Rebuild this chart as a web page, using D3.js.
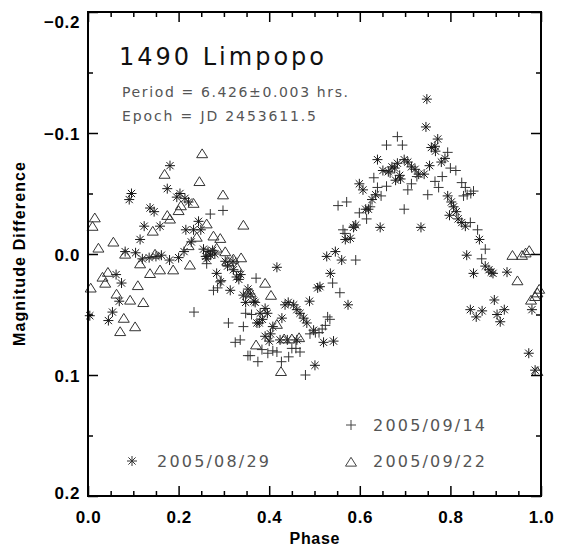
<!DOCTYPE html>
<html>
<head>
<meta charset="utf-8">
<script src="https://cdn.jsdelivr.net/npm/d3@7"></script>
<style>
  body { margin: 0; background: #fff; }
  text { font-family: "Liberation Sans", Arial, Helvetica, sans-serif; }
  .ann { font-family: "DejaVu Sans", "Liberation Sans", sans-serif; }
</style>
</head>
<body>
<script>
var fullWidth = 562
var fullHeight = 546
var margin = { top: 12, right: 21, bottom: 50, left: 88 }

// tick values
var xMajor = [0, 0.2, 0.4, 0.6, 0.8, 1.0]
var yMajor = [-0.2, -0.1, 0.0, 0.1, 0.2]

// 2005/08/29 (asterisks) [phase, mag]
var aug29 = [
  [0.004,0.051],[0.045,0.055],[0.054,0.048],[0.062,0.017],[0.069,0.039],[0.074,0.024],[0.082,-0.002],
  [0.091,-0.045],[0.096,-0.050],[0.105,-0.001],[0.115,-0.012],[0.124,-0.023],[0.137,-0.038],[0.146,-0.035],
  [0.159,-0.023],[0.175,-0.054],[0.181,-0.073],[0.196,-0.047],[0.203,-0.050],[0.214,-0.046],[0.222,-0.043],
  [0.216,-0.020],[0.228,-0.010],[0.233,-0.020],[0.244,-0.027],[0.249,-0.020],
  [0.120,0.004],[0.135,0.003],[0.150,0.002],[0.162,0.001],[0.180,0.005],[0.200,0.003],[0.212,-0.002],
  [0.255,-0.004],[0.260,0.002],[0.265,-0.002],[0.270,0.001],[0.275,-0.003],[0.280,0.000],[0.262,0.004],
  [0.284,0.016],[0.292,0.023],[0.303,0.006],[0.308,0.010],[0.314,0.030],[0.321,0.013],[0.328,0.019],
  [0.333,0.021],[0.343,0.034],[0.348,0.040],[0.358,0.033],[0.366,0.039],[0.373,0.057],[0.378,0.057],
  [0.380,0.049],[0.391,0.045],[0.396,0.049],[0.408,0.060],[0.417,0.011],[0.428,0.053],[0.435,0.042],
  [0.442,0.040],[0.454,0.042],[0.461,0.046],[0.468,0.049],[0.476,0.053],[0.483,0.057],[0.489,0.039],
  [0.498,0.063],[0.507,0.028],[0.512,0.027],[0.391,0.068],[0.400,0.072],[0.424,0.071],[0.440,0.071],
  [0.461,0.071],[0.501,0.092],[0.520,0.073],[0.542,0.072],[0.527,0.002],[0.535,0.016],[0.546,-0.002],
  [0.560,0.005],[0.568,-0.012],[0.574,0.042],[0.579,-0.013],[0.586,-0.022],[0.591,-0.024],
  [0.320,0.006],[0.337,0.017],[0.353,0.029],[0.369,0.040],[0.385,0.054],[0.403,0.066],
  [0.599,-0.058],[0.607,-0.053],[0.613,-0.037],[0.619,-0.037],[0.627,-0.045],[0.635,-0.049],[0.639,-0.078],
  [0.645,-0.022],[0.651,-0.069],[0.663,-0.068],[0.671,-0.072],[0.677,-0.071],[0.679,-0.061],[0.683,-0.075],
  [0.688,-0.065],[0.690,-0.062],[0.698,-0.078],[0.706,-0.076],[0.714,-0.072],[0.722,-0.070],[0.730,-0.066],
  [0.735,-0.022],[0.742,-0.066],[0.746,-0.105],[0.748,-0.128],[0.754,-0.073],[0.758,-0.088],[0.766,-0.089],
  [0.767,-0.085],[0.772,-0.095],[0.780,-0.076],[0.788,-0.079],[0.794,-0.048],[0.798,-0.032],[0.802,-0.043],
  [0.807,-0.039],[0.813,-0.035],[0.817,-0.029],[0.825,-0.026],[0.833,-0.023],[0.836,0.001],[0.851,0.016],
  [0.857,0.052],[0.864,-0.012],[0.844,0.046],[0.870,0.047],[0.877,0.010],[0.885,0.013],[0.890,0.015],
  [0.894,0.016],[0.897,0.038],[0.903,0.050],[0.910,0.056],[0.919,0.046],[0.925,0.015],
  [0.973,0.082],[0.980,0.046],[0.987,0.096]
]

// 2005/09/14 (pluses)
var sep14 = [
  [0.234,0.048],[0.262,0.008],[0.270,-0.033],[0.298,-0.036],[0.277,0.030],[0.286,0.028],[0.294,0.022],
  [0.310,0.057],[0.325,0.073],[0.336,0.071],[0.343,0.060],[0.348,0.049],[0.353,0.084],[0.358,0.084],
  [0.361,0.050],[0.371,0.020],[0.375,0.089],[0.384,0.079],[0.397,0.082],[0.408,0.080],[0.417,0.081],
  [0.427,0.089],[0.443,0.085],[0.450,0.078],[0.459,0.078],[0.468,0.081],[0.480,0.100],[0.490,0.066],
  [0.502,0.065],[0.510,0.065],[0.517,0.062],[0.524,0.059],[0.529,0.052],[0.534,0.054],[0.540,0.024],
  [0.556,0.032],[0.552,-0.040],[0.571,-0.043],[0.563,-0.020],[0.567,-0.017],[0.591,0.005],[0.587,-0.023],
  [0.599,-0.034],[0.615,-0.029],[0.623,-0.039],[0.631,-0.063],[0.639,-0.055],[0.647,-0.048],[0.659,-0.056],
  [0.667,-0.067],[0.659,-0.090],[0.683,-0.097],[0.694,-0.090],[0.698,-0.037],[0.706,-0.053],[0.714,-0.058],
  [0.726,-0.064],[0.750,-0.049],[0.766,-0.060],[0.774,-0.055],[0.782,-0.064],[0.794,-0.084],[0.800,-0.071],
  [0.812,-0.069],[0.825,-0.059],[0.833,-0.055],[0.837,-0.049],[0.845,-0.050],[0.851,-0.052],[0.829,-0.048],
  [0.844,-0.026],[0.860,-0.020],[0.877,-0.004],[0.869,0.004]
]

// 2005/09/22 (triangles)
var sep22 = [
  [0.006,0.028],[0.010,-0.023],[0.015,-0.030],[0.023,-0.005],[0.032,0.019],[0.038,0.024],[0.044,0.015],
  [0.056,-0.010],[0.063,0.033],[0.071,0.064],[0.079,0.053],[0.082,0.000],[0.093,0.038],[0.104,0.060],
  [0.110,0.026],[0.115,0.008],[0.122,0.040],[0.137,0.016],[0.143,-0.019],[0.148,0.000],[0.159,0.013],
  [0.169,-0.066],[0.175,-0.032],[0.181,-0.029],[0.188,0.013],[0.200,-0.036],[0.205,-0.040],[0.222,-0.007],
  [0.225,0.009],[0.233,-0.042],[0.240,-0.014],[0.246,-0.060],[0.252,-0.083],[0.262,-0.025],[0.277,-0.015],
  [0.284,-0.005],[0.292,-0.013],[0.298,-0.049],[0.303,-0.002],[0.308,0.006],[0.321,0.004],[0.329,0.011],
  [0.338,0.003],[0.343,-0.024],[0.353,0.032],[0.359,0.032],[0.371,0.075],[0.391,0.024],[0.404,0.034],
  [0.417,0.058],[0.426,0.097],[0.433,0.070],[0.450,0.070],[0.466,0.069],
  [0.937,0.001],[0.948,0.022],[0.958,0.001],[0.966,-0.001],[0.974,-0.003],[0.978,0.038],[0.987,0.035],
  [0.992,0.032],[0.996,0.029],[0.992,0.097]
]

var legendLabels = ['2005/09/14', '2005/08/29', '2005/09/22']

var svg = d3.select('body').append('svg')
  .attr('xmlns', 'http://www.w3.org/2000/svg')
  .attr('width', fullWidth)
  .attr('height', fullHeight)

var x = d3.scaleLinear().domain([0, 1]).range([margin.left, fullWidth - margin.right])
var y = d3.scaleLinear().domain([-0.2, 0.2]).range([margin.top, fullHeight - margin.bottom])

// marker shapes (IDL style)
function asterisk(s) {
  var d = s * 0.72
  return 'M' + -s + ',0L' + s + ',0M0,' + -s + 'L0,' + s +
    'M' + -d + ',' + -d + 'L' + d + ',' + d + 'M' + -d + ',' + d + 'L' + d + ',' + -d
}
function plus(s) {
  return 'M' + -s + ',0L' + s + ',0M0,' + -s + 'L0,' + s
}
function triangle(s) {
  return 'M' + -s + ',' + (s * 0.75) + 'L' + s + ',' + (s * 0.75) + 'L0,' + (-s * 0.85) + 'Z'
}

var pts = svg.append('g').attr('fill', 'none')

pts.selectAll('.ast').data(aug29).join('path')
  .attr('class', 'ast')
  .attr('transform', (d) => 'translate(' + x(d[0]) + ',' + y(d[1]) + ')')
  .attr('d', asterisk(5))
  .attr('stroke', '#1a1a1a').attr('stroke-width', 1)

pts.selectAll('.pls').data(sep14).join('path')
  .attr('class', 'pls')
  .attr('transform', (d) => 'translate(' + x(d[0]) + ',' + y(d[1]) + ')')
  .attr('d', plus(5))
  .attr('stroke', '#333').attr('stroke-width', 1)

pts.selectAll('.tri').data(sep22).join('path')
  .attr('class', 'tri')
  .attr('transform', (d) => 'translate(' + x(d[0]) + ',' + y(d[1]) + ')')
  .attr('d', triangle(5.5))
  .attr('stroke', '#333').attr('stroke-width', 1)

// axes: ticks pointing inward on all four sides
var xMinor = d3.range(0, 1.0001, 0.05).filter((v) => Math.abs(v * 5 - Math.round(v * 5)) > 1e-6)
var yMinor = d3.range(-0.2, 0.2001, 0.05).filter((v) => Math.abs(v * 10 - Math.round(v * 10)) > 1e-6)
var fmt = d3.format('.1f')
var bottomY = fullHeight - margin.bottom
var rightX = fullWidth - margin.right

function styleAxis(g) {
  g.select('.domain').remove()
  g.selectAll('line').attr('stroke', '#000').attr('stroke-width', 1.5)
  g.selectAll('text').attr('fill', '#000').style('font-size', '17px')
    .style('font-weight', 'bold').style('letter-spacing', '0.6px')
}

svg.append('g').attr('transform', 'translate(0,' + bottomY + ')')
  .call(d3.axisBottom(x).tickValues(xMajor).tickSize(-10).tickPadding(15)
    .tickFormat((d) => fmt(d).replace('-', '\u2212')))
  .call(styleAxis)
svg.append('g').attr('transform', 'translate(0,' + bottomY + ')')
  .call(d3.axisBottom(x).tickValues(xMinor).tickSize(-5).tickFormat(''))
  .call(styleAxis)
svg.append('g').attr('transform', 'translate(0,' + margin.top + ')')
  .call(d3.axisTop(x).tickValues(xMajor).tickSize(-10).tickFormat(''))
  .call(styleAxis)
svg.append('g').attr('transform', 'translate(0,' + margin.top + ')')
  .call(d3.axisTop(x).tickValues(xMinor).tickSize(-5).tickFormat(''))
  .call(styleAxis)

var yAxisG = svg.append('g').attr('transform', 'translate(' + margin.left + ',0)')
  .call(d3.axisLeft(y).tickValues(yMajor).tickSize(-10).tickPadding(8)
    .tickFormat((d) => fmt(d).replace('-', '\u2212')))
  .call(styleAxis)
// IDL pulls the end labels inside the frame
yAxisG.selectAll('text')
  .attr('y', (d) => Math.max(margin.top + 9, Math.min(bottomY - 4, y(d))) - y(d))
  .attr('dy', '0.36em')
svg.append('g').attr('transform', 'translate(' + margin.left + ',0)')
  .call(d3.axisLeft(y).tickValues(yMinor).tickSize(-5).tickFormat(''))
  .call(styleAxis)
svg.append('g').attr('transform', 'translate(' + rightX + ',0)')
  .call(d3.axisRight(y).tickValues(yMajor).tickSize(-10).tickFormat(''))
  .call(styleAxis)
svg.append('g').attr('transform', 'translate(' + rightX + ',0)')
  .call(d3.axisRight(y).tickValues(yMinor).tickSize(-5).tickFormat(''))
  .call(styleAxis)

// frame
svg.append('rect')
  .attr('x', margin.left).attr('y', margin.top)
  .attr('width', rightX - margin.left).attr('height', bottomY - margin.top)
  .attr('fill', 'none').attr('stroke', '#000').attr('stroke-width', 2)

// axis titles
svg.append('text')
  .attr('x', (margin.left + rightX) / 2).attr('y', 544)
  .attr('text-anchor', 'middle')
  .style('font-size', '16px').style('font-weight', 'bold')
  .attr('textLength', 50).attr('lengthAdjust', 'spacing')
  .text('Phase')

svg.append('text')
  .attr('transform', 'translate(25,' + y(0) + ') rotate(-90)')
  .attr('text-anchor', 'middle')
  .style('font-size', '16px').style('font-weight', 'bold')
  .attr('textLength', 184).attr('lengthAdjust', 'spacing')
  .text('Magnitude Difference')

// annotation
svg.append('text').attr('class', 'ann')
  .attr('x', 119).attr('y', 65)
  .style('font-size', '24px').attr('fill', '#111')
  .attr('textLength', 205).attr('lengthAdjust', 'spacing')
  .text('1490 Limpopo')

svg.append('text').attr('class', 'ann')
  .attr('x', 122).attr('y', 97)
  .style('font-size', '14px').attr('fill', '#555')
  .attr('textLength', 226).attr('lengthAdjust', 'spacing')
  .text('Period = 6.426\u00b10.003 hrs.')

svg.append('text').attr('class', 'ann')
  .attr('x', 122).attr('y', 121)
  .style('font-size', '14px').attr('fill', '#555')
  .attr('textLength', 194).attr('lengthAdjust', 'spacing')
  .text('Epoch = JD 2453611.5')

// legend
var leg = svg.append('g')
leg.append('path').attr('transform', 'translate(351,425)').attr('d', plus(5))
  .attr('stroke', '#444').attr('fill', 'none')
leg.append('path').attr('transform', 'translate(132,461)').attr('d', asterisk(5))
  .attr('stroke', '#333').attr('fill', 'none')
leg.append('path').attr('transform', 'translate(351,462)').attr('d', triangle(5.5))
  .attr('stroke', '#444').attr('fill', 'none')

var legPos = [[373, 431], [157, 467], [373, 467]]
leg.selectAll('.lt').data(legendLabels).join('text')
  .attr('class', 'lt ann')
  .attr('x', (d, i) => legPos[i][0]).attr('y', (d, i) => legPos[i][1])
  .style('font-size', '16px').attr('fill', '#555')
  .attr('textLength', 112).attr('lengthAdjust', 'spacing')
  .text((d) => d)
</script>
</body>
</html>
